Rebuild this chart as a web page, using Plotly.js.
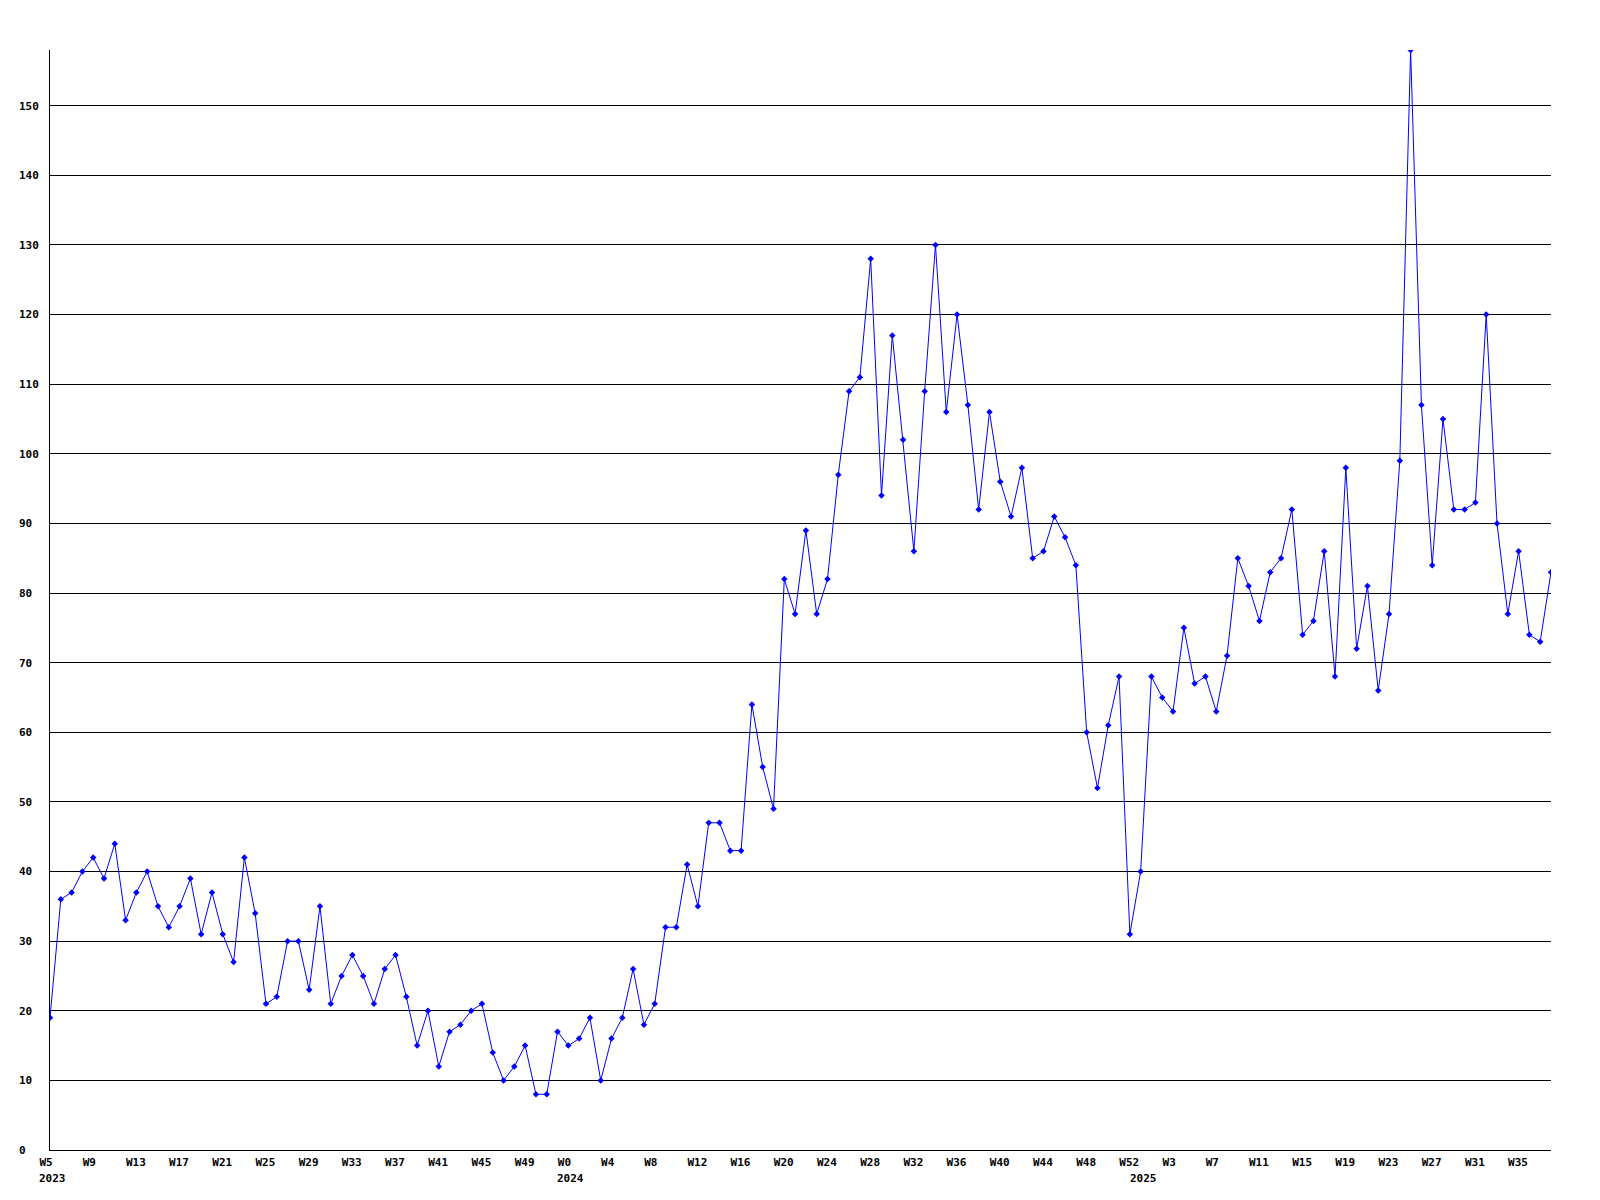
<!DOCTYPE html>
<html>
<head>
<meta charset="utf-8">
<script src="https://cdn.plot.ly/plotly-3.0.1.min.js"></script>
<style>html,body{margin:0;padding:0;background:#fff;}</style>
</head>
<body>
<div id="chart" style="width:1600px;height:1200px;"></div>
<script>
// Weekly values, W5 2023 .. W38 2025
const values = [
  19, 36, 37, 40, 42, 39, 44, 33, 37, 40, 35, 32, 35, 39, 31, 37, 31, 27, 42, 34,
  21, 22, 30, 30, 23, 35, 21, 25, 28, 25, 21, 26, 28, 22, 15, 20, 12, 17, 18, 20,
  21, 14, 10, 12, 15, 8, 8, 17, 15, 16, 19, 10, 16, 19, 26, 18, 21, 32, 32, 41,
  35, 47, 47, 43, 43, 64, 55, 49, 82, 77, 89, 77, 82, 97, 109, 111, 128, 94, 117, 102,
  86, 109, 130, 106, 120, 107, 92, 106, 96, 91, 98, 85, 86, 91, 88, 84, 60, 52, 61, 68,
  31, 40, 68, 65, 63, 75, 67, 68, 63, 71, 85, 81, 76, 83, 85, 92, 74, 76, 86, 68,
  98, 72, 81, 66, 77, 99, 158, 107, 84, 105, 92, 92, 93, 120, 90, 77, 86, 74, 73, 83
];

// Week labels shown every 4th point
const tickLabels = [
  "W5","W9","W13","W17","W21","W25","W29","W33","W37","W41","W45","W49",
  "W0","W4","W8","W12","W16","W20","W24","W28","W32","W36","W40","W44","W48","W52",
  "W3","W7","W11","W15","W19","W23","W27","W31","W35"
];
const tickEvery = 4;

// Year labels and the index of each year's first week
const yearLabels = ["2023", "2024", "2025"];
const yearStarts = [0, 48, 101];

// Y axis labels
const yTickVals = [0,10,20,30,40,50,60,70,80,90,100,110,120,130,140,150];

const xIdx = values.map((_, i) => i);
const NB = "\u00A0";
const yTickText = yTickVals.map(v => { const s = String(v); return s + NB.repeat(3 - s.length); });

const font = {family: "DejaVu Sans Mono", size: 11, color: "#000"};

const trace = {
  x: xIdx,
  y: values,
  type: "scatter",
  mode: "lines+markers",
  line: {color: "#0000ff", width: 1},
  marker: {symbol: "diamond", size: 5, color: "#0000ff"},
  hoverinfo: "skip"
};

const annotations = yearLabels.map((t, i) => ({
  text: "<b>" + t + "</b>",
  x: yearStarts[i], xref: "x",
  y: 0, yref: "paper",
  xanchor: "left", yanchor: "top",
  xshift: -13, yshift: -20,
  showarrow: false,
  font: font
}));

const layout = {
  width: 1600, height: 1200,
  margin: {l: 50, r: 49, t: 50, b: 50, pad: 0},
  paper_bgcolor: "#fff", plot_bgcolor: "#fff",
  showlegend: false,
  font: font,
  xaxis: {
    range: [0, values.length - 1],
    tickvals: tickLabels.map((_, i) => i * tickEvery),
    ticktext: tickLabels.map(t => "<b>" + t + "</b>"),
    ticks: "", showgrid: false, zeroline: false,
    showline: true, linecolor: "#000", linewidth: 1,
    ticklabelposition: "outside right",
    ticklabelshift: -11,
    ticklabelstandoff: 2,
    tickfont: font,
    fixedrange: true
  },
  yaxis: {
    range: [0, 158],
    tickvals: yTickVals,
    ticktext: yTickText.map(t => "<b>" + t + "</b>"),
    ticks: "", showgrid: true, gridcolor: "#000", gridwidth: 1,
    zeroline: false,
    showline: true, linecolor: "#000", linewidth: 1,
    ticklabelstandoff: 8,
    tickfont: font,
    fixedrange: true
  },
  annotations: annotations
};

Plotly.newPlot("chart", [trace], layout, {displayModeBar: false, staticPlot: true});
</script>
</body>
</html>
